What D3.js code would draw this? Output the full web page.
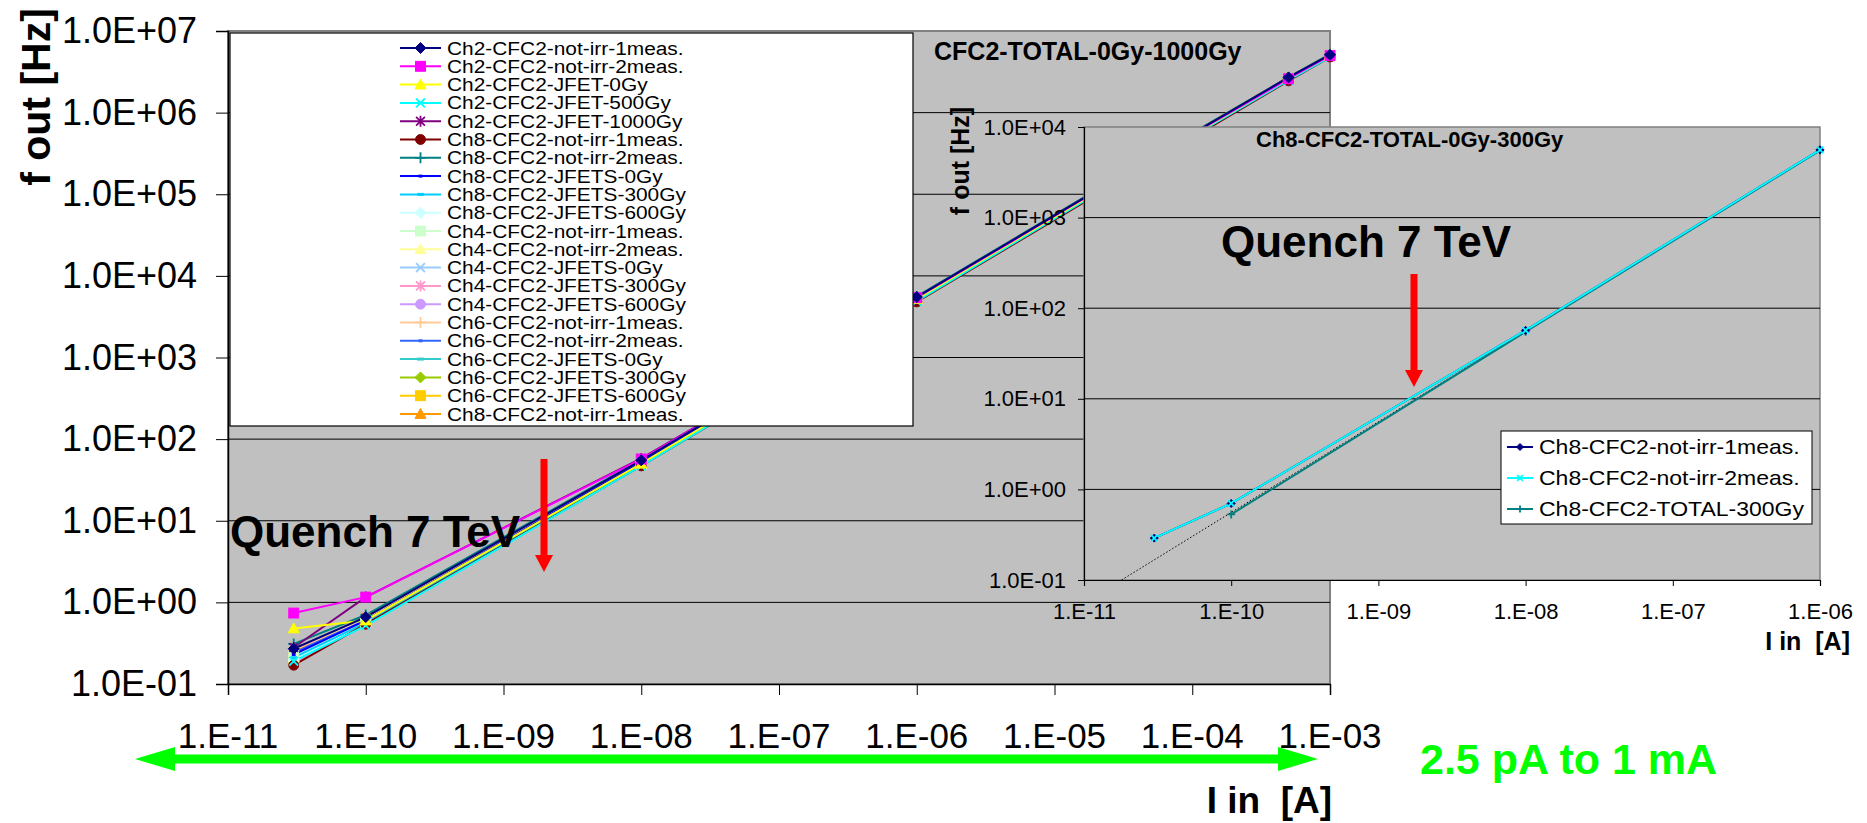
<!DOCTYPE html>
<html>
<head>
<meta charset="utf-8">
<script src="https://cdn.jsdelivr.net/npm/d3@7"></script>
<style>
  html, body { margin: 0; padding: 0; background: #ffffff; }
  svg { display: block; font-family: "Liberation Sans", Arial, sans-serif; }
</style>
</head>
<body>
<svg id="chart" width="1867" height="823"></svg>
<script>
// ---------- main chart data: f out [Hz] versus I in [A] ----------
const mainCurrents = [3e-11, 1e-10, 1e-8, 1e-6, 1e-4, 5e-4, 1e-3];

const seriesNames = [
  "Ch2-CFC2-not-irr-1meas.", "Ch2-CFC2-not-irr-2meas.", "Ch2-CFC2-JFET-0Gy",
  "Ch2-CFC2-JFET-500Gy", "Ch2-CFC2-JFET-1000Gy", "Ch8-CFC2-not-irr-1meas.",
  "Ch8-CFC2-not-irr-2meas.", "Ch8-CFC2-JFETS-0Gy", "Ch8-CFC2-JFETS-300Gy",
  "Ch8-CFC2-JFETS-600Gy", "Ch4-CFC2-not-irr-1meas.", "Ch4-CFC2-not-irr-2meas.",
  "Ch4-CFC2-JFETS-0Gy", "Ch4-CFC2-JFETS-300Gy", "Ch4-CFC2-JFETS-600Gy",
  "Ch6-CFC2-not-irr-1meas.", "Ch6-CFC2-not-irr-2meas.", "Ch6-CFC2-JFETS-0Gy",
  "Ch6-CFC2-JFETS-300Gy", "Ch6-CFC2-JFETS-600Gy", "Ch8-CFC2-not-irr-1meas.",
  "Ch8-CFC2-not-irr-2meas."
];

const seriesColors = [
  "#000080", "#FF00FF", "#FFFF00", "#00FFFF", "#800080", "#800000",
  "#008080", "#0000FF", "#00CCFF", "#CCFFFF", "#CCFFCC", "#FFFF99",
  "#99CCFF", "#FF99CC", "#CC99FF", "#FFCC99", "#3366FF", "#33CCCC",
  "#99CC00", "#FFCC00", "#FF9900", "#FF6600"
];

const seriesMarkers = [
  "diamond", "square", "triangle", "x", "star", "circle", "plus", "dot", "dash",
  "diamond", "square", "triangle", "x", "star", "circle", "plus", "dot", "dash",
  "diamond", "square", "triangle", "x"
];

const seriesValues = [
  [0.27, 0.66, 55, 5500, 5.5e5, 2.7e6, 5.1e6],
  [0.74, 1.16, 57, 5400, 5.4e5, 2.6e6, 5.0e6],
  [0.48, 0.60, 50, 5200, 5.3e5, 2.6e6, 5.0e6],
  [0.19, 0.52, 47, 4900, 5.1e5, 2.5e6, 4.8e6],
  [0.28, 1.16, 58, 5300, 5.3e5, 2.6e6, 5.0e6],
  [0.17, 0.54, 47, 4800, 4.9e5, 2.45e6, 4.8e6],
  [0.31, 0.70, 56, 5600, 5.6e5, 2.7e6, 5.2e6],
  [0.23, 0.60, 52, 5300, 5.4e5, 2.6e6, 5.0e6],
  [0.21, 0.56, 49, 5100, 5.2e5, 2.6e6, 4.9e6],
  [0.20, 0.55, 48, 5000, 5.1e5, 2.5e6, 4.9e6],
  [0.22, 0.58, 50, 5200, 5.2e5, 2.6e6, 5.0e6],
  [0.21, 0.57, 49, 5100, 5.2e5, 2.6e6, 4.9e6],
  [0.20, 0.55, 48, 5000, 5.1e5, 2.5e6, 4.9e6],
  [0.18, 0.53, 48, 5000, 5.0e5, 2.5e6, 4.8e6],
  [0.19, 0.55, 48, 5000, 5.1e5, 2.5e6, 4.9e6],
  [0.26, 0.64, 53, 5300, 5.3e5, 2.6e6, 5.0e6],
  [0.24, 0.62, 53, 5400, 5.4e5, 2.7e6, 5.1e6],
  [0.22, 0.60, 52, 5300, 5.3e5, 2.6e6, 5.0e6],
  [0.21, 0.58, 51, 5200, 5.2e5, 2.6e6, 5.0e6],
  [0.20, 0.58, 51, 5200, 5.2e5, 2.6e6, 5.0e6],
  [0.26, 0.66, 54, 5500, 5.6e5, 2.7e6, 5.2e6],
  [0.25, 0.65, 54, 5400, 5.5e5, 2.7e6, 5.1e6]
];

const mainXTicks = [1e-11, 1e-10, 1e-9, 1e-8, 1e-7, 1e-6, 1e-5, 1e-4, 1e-3];
const mainYTicks = [1e-1, 1e0, 1e1, 1e2, 1e3, 1e4, 1e5, 1e6, 1e7];
const mainTitle = "CFC2-TOTAL-0Gy-1000Gy";

// ---------- inset chart data: channel 8 before / after 300 Gy ----------
const insetNames = ["Ch8-CFC2-not-irr-1meas.", "Ch8-CFC2-not-irr-2meas.", "Ch8-CFC2-TOTAL-300Gy"];
const insetColors = ["#000080", "#00FFFF", "#008080"];
const insetMarkers = ["diamond", "x", "plus"];
const insetCurrents = [
  [3e-11, 1e-10, 1e-8, 1e-6],
  [3e-11, 1e-10, 1e-8, 1e-6],
  [1e-10, 1e-8, 1e-6]
];
const insetValues = [
  [0.29, 0.70, 57, 5600],
  [0.29, 0.70, 57, 5600],
  [0.53, 55, 5500]
];
// linear power-law fit through the irradiated channel
const insetTrendCurrents = [1.8e-11, 1e-6];
const insetTrendValues = [0.1, 5600];
const insetXTicks = [1e-11, 1e-10, 1e-9, 1e-8, 1e-7, 1e-6];
const insetYTicks = [1e-1, 1e0, 1e1, 1e2, 1e3, 1e4];
const insetTitle = "Ch8-CFC2-TOTAL-0Gy-300Gy";

const FONT = '"Liberation Sans", Arial, sans-serif';
const svg = d3.select("#chart");

const fmtY = v => {
  const e = Math.round(Math.log10(v));
  return "1.0E" + (e < 0 ? "-" : "+") + String(Math.abs(e)).padStart(2, "0");
};
const fmtX = v => {
  const e = Math.round(Math.log10(v));
  return "1.E" + (e < 0 ? "-" : "+") + String(Math.abs(e)).padStart(2, "0");
};

// marker glyphs used by the spreadsheet-style series
function marker(g, type, cx, cy, s, color) {
  const h = s / 2;
  if (type === "diamond") {
    g.append("path").attr("d", `M${cx},${cy - h}L${cx + h},${cy}L${cx},${cy + h}L${cx - h},${cy}Z`)
      .attr("fill", color).attr("stroke", color);
  } else if (type === "square") {
    g.append("rect").attr("x", cx - h * 0.9).attr("y", cy - h * 0.9)
      .attr("width", s * 0.9).attr("height", s * 0.9).attr("fill", color).attr("stroke", color);
  } else if (type === "triangle") {
    g.append("path").attr("d", `M${cx},${cy - h}L${cx + h},${cy + h * 0.8}L${cx - h},${cy + h * 0.8}Z`)
      .attr("fill", color).attr("stroke", color);
  } else if (type === "circle") {
    g.append("circle").attr("cx", cx).attr("cy", cy).attr("r", h * 0.9)
      .attr("fill", color).attr("stroke", color);
  } else if (type === "x" || type === "star") {
    let d = `M${cx - h * 0.8},${cy - h * 0.8}L${cx + h * 0.8},${cy + h * 0.8}M${cx + h * 0.8},${cy - h * 0.8}L${cx - h * 0.8},${cy + h * 0.8}`;
    if (type === "star") d += `M${cx},${cy - h}L${cx},${cy + h}`;
    g.append("path").attr("d", d).attr("fill", "none").attr("stroke", color).attr("stroke-width", 1.8);
  } else if (type === "plus") {
    g.append("path").attr("d", `M${cx - h},${cy}L${cx + h},${cy}M${cx},${cy - h}L${cx},${cy + h}`)
      .attr("fill", "none").attr("stroke", color).attr("stroke-width", 1.8);
  } else if (type === "dot") {
    g.append("rect").attr("x", cx - h * 0.35).attr("y", cy - 1.5).attr("width", s * 0.35).attr("height", 3)
      .attr("fill", color);
  } else if (type === "dash") {
    g.append("rect").attr("x", cx - h * 0.6).attr("y", cy - 1.5).attr("width", s * 0.6).attr("height", 3)
      .attr("fill", color);
  }
}

// ================= MAIN CHART =================
const M = { left: 228, right: 1330, top: 31, bottom: 684 };
const x = d3.scaleLog().domain([1e-11, 1e-3]).range([M.left, M.right]);
const y = d3.scaleLog().domain([1e-1, 1e7]).range([M.bottom, M.top]);

const main = svg.append("g");
main.append("rect").attr("x", M.left).attr("y", M.top)
  .attr("width", M.right - M.left).attr("height", M.bottom - M.top)
  .attr("fill", "#C0C0C0").attr("stroke", "#808080").attr("stroke-width", 2);

// horizontal gridlines
main.append("g").selectAll("line").data(mainYTicks.slice(1, -1)).join("line")
  .attr("x1", M.left).attr("x2", M.right)
  .attr("y1", d => y(d)).attr("y2", d => y(d))
  .attr("stroke", "#000").attr("stroke-width", 1);

// y axis
const yAxis = main.append("g").attr("transform", `translate(${M.left},0)`)
  .call(d3.axisLeft(y).tickValues(mainYTicks).tickFormat(fmtY).tickSize(12).tickPadding(19));
yAxis.select(".domain").attr("stroke", "#000").attr("stroke-width", 1.5);
yAxis.selectAll(".tick line").attr("stroke", "#000");
yAxis.selectAll("text").attr("font-size", 36).attr("font-family", FONT).attr("fill", "#000");

// x axis (tick marks on the axis, labels set lower)
const xAxis = main.append("g").attr("transform", `translate(0,${M.bottom})`)
  .call(d3.axisBottom(x).tickValues(mainXTicks).tickFormat("").tickSize(11));
xAxis.select(".domain").attr("stroke", "#000").attr("stroke-width", 1.5);
xAxis.selectAll(".tick line").attr("stroke", "#000");

main.append("g").selectAll("text").data(mainXTicks).join("text")
  .attr("x", d => x(d)).attr("y", 748)
  .attr("text-anchor", "middle").attr("font-size", 35).attr("font-family", FONT)
  .text(fmtX);

// axis titles
main.append("text")
  .attr("transform", "translate(36,97) rotate(-90)")
  .attr("text-anchor", "middle").attr("dominant-baseline", "central")
  .attr("font-size", 41).attr("font-weight", "bold").attr("font-family", FONT)
  .text("f out [Hz]");
main.append("text").attr("x", 1332).attr("y", 813).attr("text-anchor", "end")
  .attr("font-size", 37).attr("font-weight", "bold").attr("font-family", FONT)
  .attr("xml:space", "preserve").style("white-space", "pre")
  .text("I in  [A]");

// title
main.append("text").attr("x", 934).attr("y", 60)
  .attr("font-size", 25).attr("font-weight", "bold").attr("font-family", FONT)
  .text(mainTitle);

// series lines + markers (first series painted last so it sits on top)
const line = d3.line().x(d => x(d[0])).y(d => y(d[1]));
const seriesG = main.append("g");
const drawOrder = d3.range(seriesValues.length).reverse();
drawOrder.forEach(i => {
  const vals = seriesValues[i];
  const pts = mainCurrents.map((c, k) => [c, vals[k]]);
  seriesG.append("path").attr("d", line(pts)).attr("fill", "none")
    .attr("stroke", seriesColors[i]).attr("stroke-width", 2);
});
drawOrder.forEach(i => {
  const vals = seriesValues[i];
  const g = seriesG.append("g");
  mainCurrents.forEach((c, k) => marker(g, seriesMarkers[i], x(c), y(vals[k]), 11, seriesColors[i]));
});

// legend (box clips the overflowing entries)
const L = { x: 230, y: 33, w: 683, h: 393 };
svg.append("clipPath").attr("id", "legclip").append("rect")
  .attr("x", L.x).attr("y", L.y).attr("width", L.w).attr("height", L.h);
const leg = main.append("g");
leg.append("rect").attr("x", L.x).attr("y", L.y).attr("width", L.w).attr("height", L.h)
  .attr("fill", "#fff");
const legItems = leg.append("g").attr("clip-path", "url(#legclip)");
seriesNames.forEach((name, i) => {
  const cy = 48 + i * 18.3;
  const g = legItems.append("g");
  g.append("line").attr("x1", 400).attr("x2", 441).attr("y1", cy).attr("y2", cy)
    .attr("stroke", seriesColors[i]).attr("stroke-width", 2);
  marker(g, seriesMarkers[i], 420.5, cy, 11, seriesColors[i]);
  g.append("text").attr("transform", `translate(447,${cy + 6.5}) scale(1.16,1)`)
    .attr("font-size", 18).attr("font-family", FONT).text(name);
});
leg.append("rect").attr("x", L.x).attr("y", L.y).attr("width", L.w).attr("height", L.h)
  .attr("fill", "none").attr("stroke", "#000").attr("stroke-width", 1.2);

// annotation: quench level
main.append("text").attr("x", 230).attr("y", 547)
  .attr("font-size", 44).attr("font-weight", "bold").attr("font-family", FONT)
  .text("Quench 7 TeV");

function downArrow(g, cx, y0, y1) {
  g.append("rect").attr("x", cx - 3.5).attr("y", y0).attr("width", 7).attr("height", y1 - y0 - 16)
    .attr("fill", "#FF0000");
  g.append("path").attr("d", `M${cx - 9},${y1 - 17}L${cx + 9},${y1 - 17}L${cx},${y1}Z`).attr("fill", "#FF0000");
}
downArrow(main, 544, 459, 572);

// ================= INSET CHART =================
const N = { left: 1084, right: 1820, top: 127, bottom: 580 };
const xi = d3.scaleLog().domain([1e-11, 1e-6]).range([N.left, N.right]);
const yi = d3.scaleLog().domain([1e-1, 1e4]).range([N.bottom, N.top]);
const inset = svg.append("g");

inset.append("rect").attr("x", N.left).attr("y", N.top)
  .attr("width", N.right - N.left).attr("height", N.bottom - N.top)
  .attr("fill", "#C0C0C0").attr("stroke", "#808080").attr("stroke-width", 1.5);

inset.append("g").selectAll("line").data(insetYTicks.slice(1, -1)).join("line")
  .attr("x1", N.left).attr("x2", N.right)
  .attr("y1", d => yi(d)).attr("y2", d => yi(d))
  .attr("stroke", "#000").attr("stroke-width", 1);

const yiAxis = inset.append("g").attr("transform", `translate(${N.left},0)`)
  .call(d3.axisLeft(yi).tickValues(insetYTicks).tickFormat(fmtY).tickSize(6).tickPadding(12));
yiAxis.select(".domain").attr("stroke", "#000").attr("stroke-width", 1.2);
yiAxis.selectAll("text").attr("font-size", 22).attr("font-family", FONT).attr("fill", "#000");

const xiAxis = inset.append("g").attr("transform", `translate(0,${N.bottom})`)
  .call(d3.axisBottom(xi).tickValues(insetXTicks).tickFormat(fmtX).tickSize(6).tickPadding(17));
xiAxis.select(".domain").attr("stroke", "#000").attr("stroke-width", 1.2);
xiAxis.selectAll("text").attr("font-size", 22).attr("font-family", FONT).attr("fill", "#000");

inset.append("text")
  .attr("transform", "translate(960,161) rotate(-90)")
  .attr("text-anchor", "middle").attr("dominant-baseline", "central")
  .attr("font-size", 25).attr("font-weight", "bold").attr("font-family", FONT)
  .text("f out [Hz]");
inset.append("text").attr("x", 1850).attr("y", 650).attr("text-anchor", "end")
  .attr("font-size", 25).attr("font-weight", "bold").attr("font-family", FONT)
  .attr("xml:space", "preserve").style("white-space", "pre")
  .text("I in  [A]");
inset.append("text").attr("x", 1256).attr("y", 147)
  .attr("font-size", 22).attr("font-weight", "bold").attr("font-family", FONT)
  .text(insetTitle);

const li = d3.line().x(d => xi(d[0])).y(d => yi(d[1]));
inset.append("path")
  .attr("d", li(insetTrendCurrents.map((c, k) => [c, insetTrendValues[k]])))
  .attr("fill", "none").attr("stroke", "#000").attr("stroke-width", 1).attr("stroke-dasharray", "1.5,2");
[2, 0, 1].forEach(i => {
  const pts = insetCurrents[i].map((c, k) => [c, insetValues[i][k]]);
  inset.append("path").attr("d", li(pts)).attr("fill", "none")
    .attr("stroke", insetColors[i]).attr("stroke-width", 2);
});
[2, 0, 1].forEach(i => {
  const g = inset.append("g");
  insetCurrents[i].forEach((c, k) => marker(g, insetMarkers[i], xi(c), yi(insetValues[i][k]), 8, insetColors[i]));
});

// inset legend
const IL = { x: 1501, y: 431, w: 311, h: 93 };
inset.append("rect").attr("x", IL.x).attr("y", IL.y).attr("width", IL.w).attr("height", IL.h)
  .attr("fill", "#fff").attr("stroke", "#000").attr("stroke-width", 1);
insetNames.forEach((name, i) => {
  const cy = 447 + i * 31;
  const g = inset.append("g");
  g.append("line").attr("x1", 1507).attr("x2", 1533).attr("y1", cy).attr("y2", cy)
    .attr("stroke", insetColors[i]).attr("stroke-width", 2);
  marker(g, insetMarkers[i], 1520, cy, 7, insetColors[i]);
  g.append("text").attr("transform", `translate(1539,${cy + 7}) scale(1.15,1)`)
    .attr("font-size", 20).attr("font-family", FONT).text(name);
});

inset.append("text").attr("x", 1221).attr("y", 257)
  .attr("font-size", 44).attr("font-weight", "bold").attr("font-family", FONT)
  .text("Quench 7 TeV");
downArrow(inset, 1414, 274, 387);

// ================= RANGE ANNOTATION =================
const ann = svg.append("g");
ann.append("rect").attr("x", 175).attr("y", 754.5).attr("width", 1103).attr("height", 9).attr("fill", "#00FF00");
ann.append("path").attr("d", "M135,759L175,747L175,771Z").attr("fill", "#00FF00");
ann.append("path").attr("d", "M1318,759L1278,747L1278,771Z").attr("fill", "#00FF00");
ann.append("text").attr("x", 1420).attr("y", 774)
  .attr("font-size", 43).attr("font-weight", "bold").attr("font-family", FONT)
  .attr("fill", "#00FF00").text("2.5 pA to 1 mA");
</script>
</body>
</html>
